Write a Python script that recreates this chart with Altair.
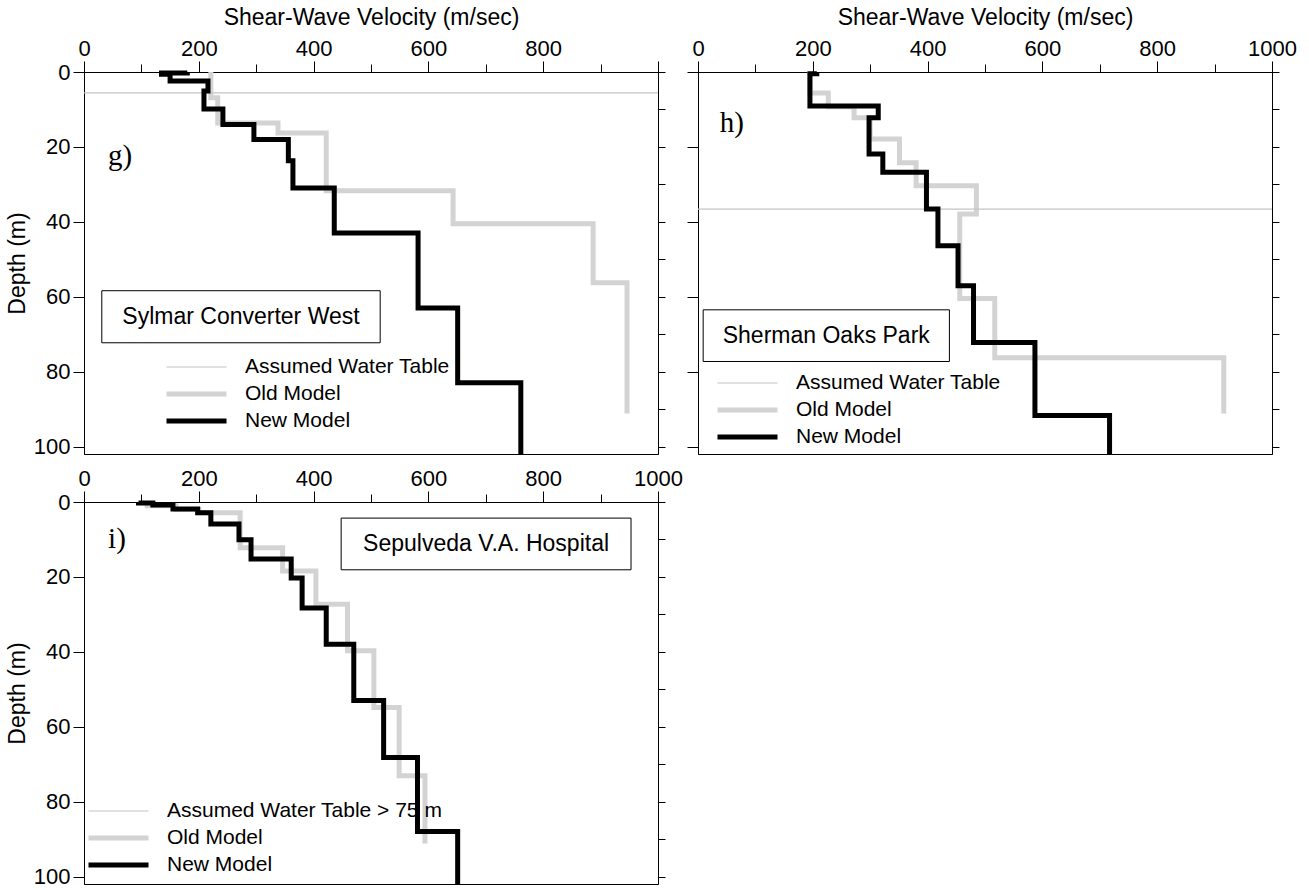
import altair as alt
import pandas as pd

FONT = "Liberation Sans"
SERIF = "Liberation Serif"

# ---------------- data ----------------
# Panel g - Sylmar Converter West
g_new_v = [180, 135, 150, 216, 209, 242, 296, 356, 364, 436, 582, 651, 761]
g_new_d = [0, 0.3, 0.6, 2.4, 5.1, 9.9, 14.0, 18.0, 23.7, 31.0, 43.0, 63.0, 83.0, 102]
g_old_v = [221, 233, 338, 422, 643, 887, 946]
g_old_d = [0, 6.9, 13.6, 16.3, 31.7, 40.5, 56.3, 91.2]
g_water = 5.6

# Panel h - Sherman Oaks Park
h_new_v = [207, 195, 314, 298, 322, 398, 418, 453, 480, 587, 717]
h_new_d = [0, 0.5, 9.1, 12.2, 21.9, 26.8, 36.6, 46.4, 57.1, 72.2, 91.7, 102]
h_old_v = [195, 227, 272, 300, 351, 380, 485, 456, 517, 916]
h_old_d = [0, 5.6, 9.3, 12.2, 17.9, 24.2, 30.4, 37.9, 60.5, 76.3, 91.2]
h_water = 36.6

# Panel i - Sepulveda V.A. Hospital
i_new_v = [95, 120, 155, 198, 221, 270, 291, 361, 380, 422, 470, 522, 581, 651]
i_new_d = [0, 0.3, 0.8, 1.9, 2.9, 5.9, 10.1, 15.2, 20.3, 28.3, 38.0, 53.0, 68.2, 88.0, 102]
i_old_v = [110, 160, 200, 272, 346, 404, 459, 505, 549, 594]
i_old_d = [0, 1.0, 2.0, 2.9, 12.2, 18.4, 27.3, 39.7, 54.9, 73.1, 91.2]

x_ticks = [0, 100, 200, 300, 400, 500, 600, 700, 800, 900, 1000]
y_major = [0, 20, 40, 60, 80, 100]
y_minor = [0, 10, 20, 30, 40, 50, 60, 70, 80, 90, 100]

# ---------------- styling ----------------
OLD_COLOR = "#d3d3d3"
WATER_COLOR = "#c4c4c4"
X_SCALE = alt.Scale(domain=[0, 1000], nice=False, zero=False)
Y_SCALE = alt.Scale(domain=[0, 102], reverse=True, nice=False, zero=False)


def step_rows(vs, ds, series):
    rows = []
    for k, v in enumerate(vs):
        rows.append({"v": v, "depth": ds[k], "series": series, "idx": 2 * k})
        rows.append({"v": v, "depth": ds[k + 1], "series": series, "idx": 2 * k + 1})
    return pd.DataFrame(rows)


def panel(new_v, new_d, old_v, old_d, water, water_label, site, box, letter,
          letter_at, legend_xy, x_title, y_labels, hide_last_x):
    domain = [water_label, "Old Model", "New Model"]
    leg = alt.Legend(orient="none", legendX=legend_xy[0], legendY=legend_xy[1],
                     title=None, symbolType="stroke", symbolSize=3600,
                     clipHeight=20, rowPadding=6, labelFont=FONT, labelLimit=500,
                     labelFontSize=21, labelColor="black", labelOffset=16,
                     padding=0, symbolOpacity=1)
    color = alt.Color("series:N", scale=alt.Scale(domain=domain,
                      range=[WATER_COLOR, OLD_COLOR, "#000000"]), legend=leg)
    swidth = alt.StrokeWidth("series:N", scale=alt.Scale(type="ordinal", domain=domain,
                             range=[1.2, 5, 5]), legend=leg)

    if hide_last_x:
        lexpr = "datum.value % 200 === 0 && datum.value < 1000 ? datum.label : ''"
    else:
        lexpr = "datum.value % 200 === 0 ? datum.label : ''"
    xaxis_kw = dict(orient="top", values=x_ticks, labelExpr=lexpr, format="d",
                    tickSize={"condition": {"test": "datum.value % 200 === 0", "value": 11},
                              "value": 8},
                    labelFont=FONT, labelFontSize=22, labelColor="black",
                    labelPadding=1, labelFlush=False, labelOverlap=False,
                    tickColor="black", domainColor="black", grid=False)
    if x_title:
        xaxis = alt.Axis(title=x_title, titleFont=FONT, titleFontSize=23,
                         titleFontWeight="normal", titleColor="black",
                         titlePadding=8, **xaxis_kw)
    else:
        xaxis = alt.Axis(title=None, **xaxis_kw)

    yaxis_kw = dict(orient="left", values=y_major, tickSize=11, labels=y_labels,
                    labelFont=FONT, labelFontSize=22, labelColor="black",
                    labelPadding=3, labelFlush=False, labelOverlap=False,
                    tickColor="black", domainColor="black", grid=False)
    if y_labels:
        yaxis = alt.Axis(title="Depth (m)", titleFont=FONT, titleFontSize=23,
                         titleFontWeight="normal", titleColor="black",
                         titlePadding=4, **yaxis_kw)
    else:
        yaxis = alt.Axis(title=None, **yaxis_kw)
    yright = alt.Axis(orient="right", values=y_minor, tickSize=7, labels=False,
                      title=None, tickColor="black", domainColor="black", grid=False)

    def X(field="v"):
        return alt.X(field + ":Q", scale=X_SCALE, axis=xaxis)

    layers = []
    old_df = step_rows(old_v, old_d, "Old Model")
    new_df = step_rows(new_v, new_d, "New Model")

    old_layer = alt.Chart(old_df).mark_line(strokeJoin="miter", strokeCap="butt").encode(
        x=X(), y=alt.Y("depth:Q", scale=Y_SCALE, axis=yaxis),
        order="idx:Q", color=color, strokeWidth=swidth)
    layers.append(old_layer)

    if water is not None:
        wdf = pd.DataFrame({"depth": [water], "series": [water_label]})
        layers.append(alt.Chart(wdf).mark_rule().encode(
            y=alt.Y("depth:Q", scale=Y_SCALE, axis=None),
            color=color, strokeWidth=swidth))

    new_layer = alt.Chart(new_df).mark_line(strokeJoin="miter", strokeCap="butt").encode(
        x=X(), y=alt.Y("depth:Q", scale=Y_SCALE, axis=None),
        order="idx:Q", color=color, strokeWidth=swidth)
    layers.append(new_layer)

    bdf = pd.DataFrame({"v": [box[0]], "v2": [box[1]], "depth": [box[2]], "depth2": [box[3]]})
    layers.append(alt.Chart(bdf).mark_rect(fill="white", stroke="black", strokeWidth=1).encode(
        x=X(), x2="v2:Q",
        y=alt.Y("depth:Q", scale=Y_SCALE, axis=yright), y2="depth2:Q"))

    tdf = pd.DataFrame({"v": [(box[0] + box[1]) / 2], "depth": [(box[2] + box[3]) / 2],
                        "label": [site]})
    layers.append(alt.Chart(tdf).mark_text(font=FONT, fontSize=23, color="black",
                                           align="center", baseline="middle").encode(
        x=X(), y=alt.Y("depth:Q", scale=Y_SCALE, axis=None), text="label:N"))

    ldf = pd.DataFrame({"v": [letter_at[0]], "depth": [letter_at[1]], "label": [letter]})
    layers.append(alt.Chart(ldf).mark_text(font=SERIF, fontSize=29, color="black",
                                           align="left", baseline="middle").encode(
        x=X(), y=alt.Y("depth:Q", scale=Y_SCALE, axis=None), text="label:N"))

    return alt.layer(*layers).resolve_axis(y="independent").properties(width=574, height=382)


g = panel(g_new_v, g_new_d, g_old_v, g_old_d, g_water, "Assumed Water Table",
          "Sylmar Converter West", (31, 516, 58.4, 72.3), "g)", (42, 22.4),
          (80, 285), "Shear-Wave Velocity (m/sec)", True, True)
h = panel(h_new_v, h_new_d, h_old_v, h_old_d, h_water, "Assumed Water Table",
          "Sherman Oaks Park", (9, 438, 63.5, 77.3), "h)", (38, 13.6),
          (17, 301), "Shear-Wave Velocity (m/sec)", False, False)
i = panel(i_new_v, i_new_d, i_old_v, i_old_d, None, "Assumed Water Table > 75 m",
          "Sepulveda V.A. Hospital", (448, 953, 4.3, 18.1), "i)", (42, 9.9),
          (2, 299), None, True, False)

chart = alt.concat(g, h, i, columns=2, spacing={"row": 48, "column": 40},
                   bounds="flush").resolve_scale(
    color="independent", strokeWidth="independent").resolve_legend(
    color="independent", strokeWidth="independent").properties(
    padding={"left": 5, "top": 5, "right": 5, "bottom": 5}, background="white"
).configure_view(stroke="black", strokeWidth=1)

chart.save("out.html", embed_options={"renderer": "svg", "actions": False})
